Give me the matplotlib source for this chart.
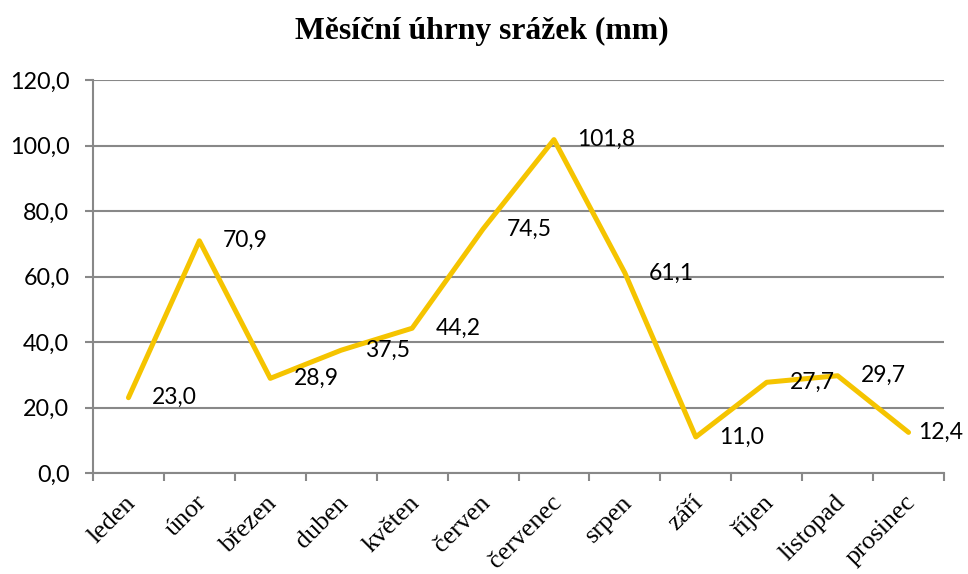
import matplotlib
matplotlib.use("Agg")
import matplotlib.pyplot as plt
import matplotlib.transforms as mtransforms
import numpy as np

months = ["leden", "únor", "březen", "duben", "květen", "červen", "červenec",
          "srpen", "září", "říjen", "listopad", "prosinec"]
values = [23.0, 70.9, 28.9, 37.5, 44.2, 74.5, 101.8, 61.1, 11.0, 27.7, 29.7, 12.4]
yticks = [0, 20, 40, 60, 80, 100, 120]
title = "Měsíční úhrny srážek (mm)"

sans = ["Lato", "DejaVu Sans"]
serif = ["Liberation Serif", "DejaVu Serif"]

fig = plt.figure(figsize=(9.68, 5.74), dpi=100)
ax = fig.add_axes([93/968, 1-473/574, (944-93)/968, (473-80)/574])

x = np.arange(len(months)) + 0.5
ax.plot(x, values, color="#F5C400", lw=3.6, solid_joinstyle="round",
        solid_capstyle="round", zorder=3)

for i, (xi, v) in enumerate(zip(x, values)):
    off = 7 if i == len(values) - 1 else 17
    ax.annotate(f"{v:.1f}".replace(".", ","), (xi, v), xytext=(off, 0),
                textcoords="offset points", ha="left", va="center",
                fontsize=16.5, family=sans, color="black", zorder=4)

ax.set_xlim(0, len(months))
ax.set_ylim(0, 120)
ax.set_yticks(yticks)
ax.set_yticklabels([f"{t:.1f}".replace(".", ",") for t in yticks],
                   fontsize=16.8, family=sans)
ax.set_xticks(np.arange(len(months) + 1))
ax.set_xticklabels([])
ax.set_xticks(x, minor=True)
ax.set_xticklabels(months, minor=True, rotation=45, ha="right", va="center",
                   rotation_mode="anchor", fontsize=18.7, family=serif)
ax.tick_params(axis="x", which="minor", length=0, pad=19)
ax.tick_params(axis="x", which="major", length=6, color="#888888", width=1.5)
ax.tick_params(axis="y", length=6, color="#888888", width=1.5, pad=11)

shift = mtransforms.ScaledTranslation(4/100, 0, fig.dpi_scale_trans)
for lab in ax.get_xticklabels(minor=True):
    lab.set_transform(lab.get_transform() + shift)

ax.grid(axis="y", color="#888888", lw=1.5)
ax.set_axisbelow(True)
for s in ["top", "right"]:
    ax.spines[s].set_visible(False)
for s in ["left", "bottom"]:
    ax.spines[s].set_color("#888888")
    ax.spines[s].set_linewidth(1.5)

fig.text(482/968, 1-31/574, title, ha="center", va="center",
         fontsize=22.8, fontweight="bold", family=serif)

fig.savefig("out.png", dpi=100)
